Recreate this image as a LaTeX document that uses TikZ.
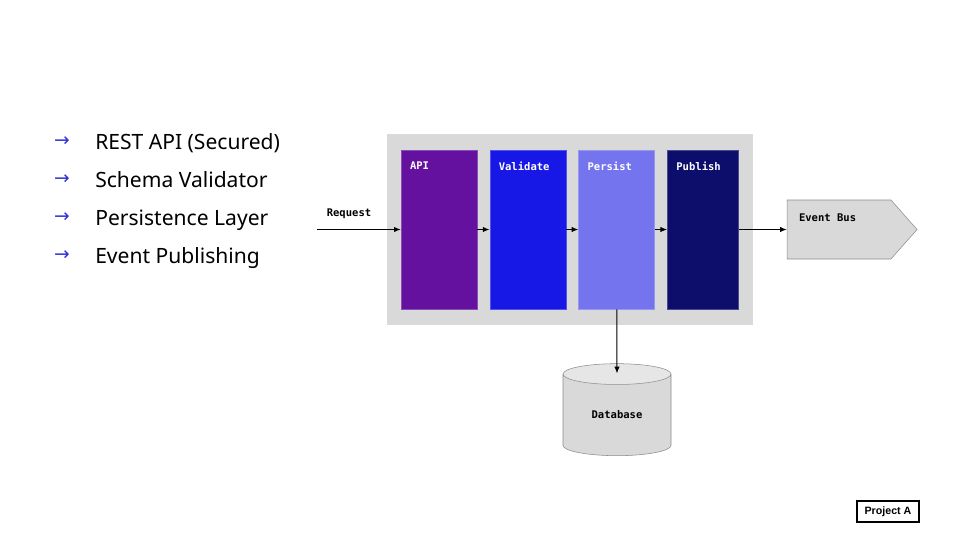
\documentclass[tikz,border=0pt]{standalone}
\usepackage{fontspec}
\setmainfont{Noto Sans}
\newfontfamily\monofont{DejaVu Sans Mono}
\newfontfamily\arrowfont{DejaVu Sans}
\newfontfamily\tagfont{Liberation Sans}
\usetikzlibrary{positioning, fit, backgrounds, shapes.geometric, shapes.symbols, arrows.meta}
\definecolor{apicol}{HTML}{63119E}
\definecolor{valcol}{HTML}{1818E6}
\definecolor{percol}{HTML}{7474EE}
\definecolor{pubcol}{HTML}{0D0D6B}
\definecolor{panelgray}{HTML}{D9D9D9}
\definecolor{dbtop}{HTML}{E6E6E6}
\definecolor{edgegray}{HTML}{8C8C8C}
\definecolor{bulletblue}{HTML}{3333D6}

\begin{document}
\begin{tikzpicture}[x=0.75pt, y=-0.75pt, node distance=9.2pt, >={Latex[length=5pt,width=4pt]},
  stage/.style={rectangle, minimum width=57pt, minimum height=119.25pt, inner sep=0pt, draw=#1!75!white, fill=#1},
  stagetext/.style={anchor=north west, inner sep=0pt, xshift=6.75pt, yshift=-9pt, text=white, font=\monofont\bfseries\fontsize{7.9}{9}\selectfont},
  monotext/.style={inner sep=0pt, font=\monofont\bfseries\fontsize{7.9}{9}\selectfont},
  bullet/.style={inner sep=0pt, text=bulletblue, font=\arrowfont\fontsize{14}{16}\selectfont},
  item/.style={anchor=base west, inner sep=0pt, font=\fontsize{15.8}{18}\selectfont},
  link/.style={->, line width=0.75pt}]
\useasboundingbox (0,0) rectangle (960,540);

\node[bullet] (b1) at (62,142) {→};
\node[item] (t1) at (95,149) {REST API (Secured)};
\node[bullet] (b2) at (62,180) {→};
\node[item] (t2) at (95,187) {Schema Validator};
\node[bullet] (b3) at (62,218) {→};
\node[item] (t3) at (95,225) {Persistence Layer};
\node[bullet] (b4) at (62,256) {→};
\node[item] (t4) at (95,263) {Event Publishing};

\node[stage=apicol, label={[stagetext]north west:API}] (api) at (439,229.5) {};
\node[stage=valcol, right=of api, label={[stagetext]north west:Validate}] (val) {};
\node[stage=percol, right=of val, label={[stagetext]north west:Persist}] (per) {};
\node[stage=pubcol, right=of per, minimum width=53.5pt, label={[stagetext]north west:Publish}] (pub) {};

\begin{scope}[on background layer]
\fill[white] (0,0) rectangle (960,540);
\node[fit=(api)(pub), inner xsep=10.5pt, inner ysep=11.5pt, fill=panelgray] (panel) {};
\end{scope}

\coordinate (req) at (317,229.5);
\node[monotext] (reqtext) at (349,214) {Request};
\draw[link] (req) -- (api);
\draw[link] (api) -- (val);
\draw[link] (val) -- (per);
\draw[link] (per) -- (pub);

\node[signal, signal to=east, signal pointer angle=97, minimum width=97.5pt, minimum height=44.25pt,
  inner sep=0pt, fill=panelgray, draw=edgegray] (bus) at (839,229.5) {};
\node[monotext, anchor=west] (bustext) at ([xshift=9pt, yshift=8.6pt]bus.west) {Event Bus};
\draw[link] (pub) -- (bus);

\node[cylinder, shape border rotate=90, shape aspect=0.41, minimum width=81pt, minimum height=69pt,
  cylinder uses custom fill, cylinder body fill=panelgray, cylinder end fill=dbtop, draw=edgegray,
  monotext] (db) at (617,415) {Database};
\draw[link] (per) -- ([yshift=-7.5pt]db.north);

\node[draw, line width=1.1pt, minimum width=46.5pt, minimum height=15.75pt, inner sep=0pt,
  font=\tagfont\bfseries\fontsize{8}{9}\selectfont] (tag) at (888,511.5) {Project A};
\end{tikzpicture}
\end{document}
